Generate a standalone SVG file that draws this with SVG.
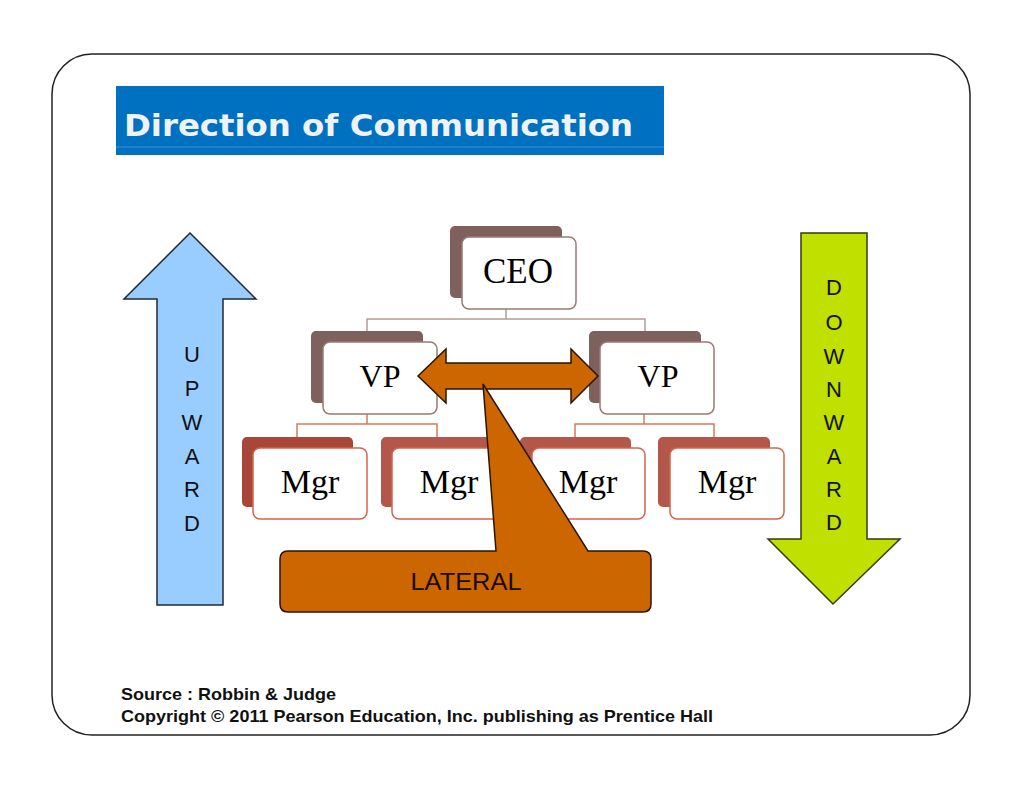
<svg xmlns="http://www.w3.org/2000/svg" width="1024" height="792" viewBox="0 0 1024 792">
<style>
.back1{fill:#7e615c}
.back2{fill:#b3574a}
.front1{fill:#ffffff;stroke:#9c7a74;stroke-width:1.5}
.front2{fill:#ffffff;stroke:#d2664a;stroke-width:1.5}
.ntxt{font-family:"Liberation Serif","Times New Roman",serif;fill:#000;text-anchor:middle}
.c1{fill:none;stroke:#b39c97;stroke-width:1.5}
.c2{fill:none;stroke:#d87a5a;stroke-width:1.5}
.vlet{font-family:"Liberation Sans",Arial,sans-serif;font-size:22px;fill:#111;text-anchor:middle}
.foot{font-family:"Liberation Sans",Arial,sans-serif;font-size:17px;font-weight:bold;fill:#111}
</style>
<rect width="1024" height="792" fill="#ffffff"/>
<rect x="52" y="54" width="918" height="681" rx="40" ry="40" fill="none" stroke="#222" stroke-width="1.5"/>
<g id="title">
<rect x="116" y="86" width="548" height="69" fill="#0070c0"/>
<line x1="116" y1="147" x2="664" y2="147" stroke="#3d8fd0" stroke-width="1"/>
<text x="124" y="136" font-family="DejaVu Sans,Verdana,sans-serif" font-weight="bold" font-size="31" fill="#eef3fa" textLength="509" lengthAdjust="spacingAndGlyphs">Direction of Communication</text>
</g>
<g id="upward">
<path d="M 190 233 L 256 299 L 223 299 L 223 605 L 157 605 L 157 299 L 124 299 Z" fill="#99ccff" stroke="#1f2a36" stroke-width="1.5"/>
<text class="vlet" x="192" y="362">U</text>
<text class="vlet" x="192" y="396">P</text>
<text class="vlet" x="192" y="430">W</text>
<text class="vlet" x="192" y="464">A</text>
<text class="vlet" x="192" y="497">R</text>
<text class="vlet" x="192" y="531">D</text>
</g>
<g id="downward">
<path d="M 801 233 L 867 233 L 867 539 L 900 539 L 833 604 L 768 539 L 801 539 Z" fill="#c0e000" stroke="#333a10" stroke-width="1.5"/>
<text class="vlet" x="834" y="295">D</text>
<text class="vlet" x="834" y="330">O</text>
<text class="vlet" x="834" y="364">W</text>
<text class="vlet" x="834" y="397">N</text>
<text class="vlet" x="834" y="430">W</text>
<text class="vlet" x="834" y="464">A</text>
<text class="vlet" x="834" y="497">R</text>
<text class="vlet" x="834" y="530">D</text>
</g>
<g id="connectors">
<path class="c1" d="M 506 309 L 506 319 M 367 331 L 367 319 L 645 319 L 645 331"/>
<path class="c2" d="M 367 414 L 367 424 M 297 437 L 297 424 L 437 424 L 437 437"/>
<path class="c2" d="M 644 414 L 644 424 M 575 437 L 575 424 L 714 424 L 714 437"/>
</g>
<g id="ceo">
<rect class="back1" x="450" y="226" width="112" height="72" rx="5"/>
<rect class="front1" x="462" y="237" width="114" height="72" rx="7"/>
<text class="ntxt" x="518" y="283" font-size="35">CEO</text>
</g>
<g id="vp-left">
<rect class="back1" x="311" y="331" width="112" height="72" rx="5"/>
<rect class="front1" x="323" y="342" width="114" height="72" rx="7"/>
<text class="ntxt" x="380" y="387" font-size="32">VP</text>
</g>
<g id="vp-right">
<rect class="back1" x="589" y="331" width="112" height="72" rx="5"/>
<rect class="front1" x="600" y="342" width="114" height="72" rx="7"/>
<text class="ntxt" x="658" y="387" font-size="32">VP</text>
</g>
<g id="mgr-1">
<rect x="242" y="437" width="111" height="70" rx="5" fill="#a8463a"/>
<rect class="front2" x="253" y="448" width="114" height="71" rx="7"/>
<text class="ntxt" x="310" y="493" font-size="34">Mgr</text>
</g>
<g id="mgr-2">
<rect class="back2" x="381" y="437" width="112" height="70" rx="5"/>
<rect class="front2" x="392" y="448" width="114" height="71" rx="7"/>
<text class="ntxt" x="449" y="493" font-size="34">Mgr</text>
</g>
<g id="mgr-3">
<rect class="back2" x="520" y="437" width="111" height="70" rx="5"/>
<rect class="front2" x="532" y="448" width="113" height="71" rx="7"/>
<text class="ntxt" x="588" y="493" font-size="34">Mgr</text>
</g>
<g id="mgr-4">
<rect class="back2" x="658" y="437" width="112" height="70" rx="5"/>
<rect class="front2" x="670" y="448" width="114" height="71" rx="7"/>
<text class="ntxt" x="727" y="493" font-size="34">Mgr</text>
</g>
<g id="lateral-arrow">
<path d="M 418 376 L 446 349 L 446 363 L 571 363 L 571 349 L 598 376 L 571 403 L 571 389 L 446 389 L 446 403 Z" fill="#cc6600" stroke="#2a1400" stroke-width="1.5" stroke-linejoin="miter"/>
</g>
<g id="lateral">
<path d="M 288 551 L 496 551 L 483 384 L 588 551 L 643 551 Q 651 551 651 559 L 651 604 Q 651 612 643 612 L 288 612 Q 280 612 280 604 L 280 559 Q 280 551 288 551 Z" fill="#cc6600" stroke="#2a1400" stroke-width="1.5"/>
<text x="466" y="590" font-family="Liberation Sans,Arial,sans-serif" font-size="23" fill="#1a0a00" text-anchor="middle" textLength="111" lengthAdjust="spacingAndGlyphs">LATERAL</text>
</g>
<g id="footer">
<text class="foot" x="121" y="700" textLength="215" lengthAdjust="spacingAndGlyphs">Source : Robbin &amp; Judge</text>
<text class="foot" x="121" y="722" textLength="592" lengthAdjust="spacingAndGlyphs">Copyright © 2011 Pearson Education, Inc. publishing as Prentice Hall</text>
</g>
</svg>
